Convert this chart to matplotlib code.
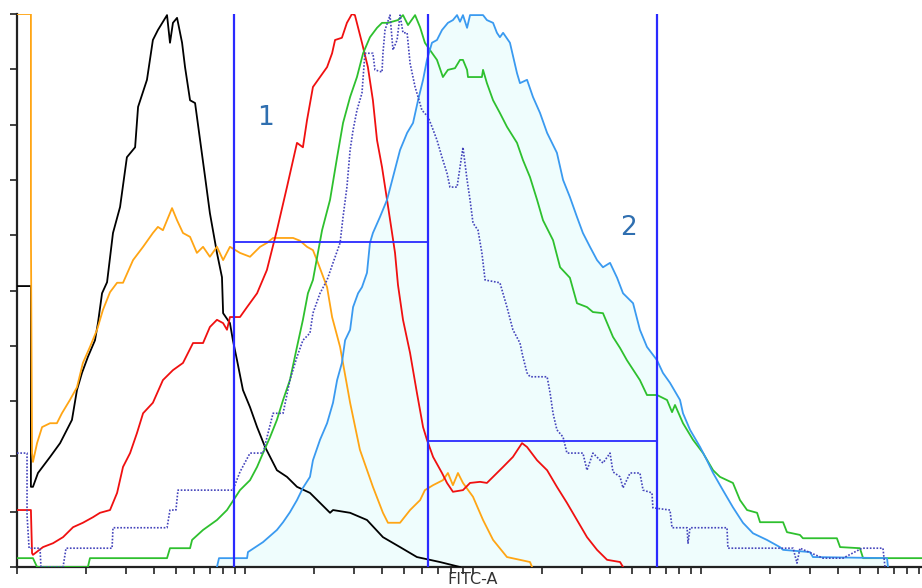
import numpy as np
import matplotlib
matplotlib.use('Agg')
import matplotlib.pyplot as plt

# histogram traces: x = log10(FITC-A), y = % of max
black_x = [0, 0.061, 0.061, 0.070, 0.092, 0.145, 0.189, 0.241, 0.263, 0.285, 0.311, 0.342, 0.355, 0.373,
           0.395, 0.421, 0.452, 0.482, 0.518, 0.531, 0.570, 0.596, 0.618, 0.658, 0.671, 0.684, 0.702, 0.724,
           0.737, 0.759, 0.781, 0.803, 0.825, 0.846, 0.877, 0.899, 0.904, 0.934, 0.947, 0.965, 0.991, 1.022,
           1.053, 1.088, 1.140, 1.184, 1.228, 1.285, 1.373, 1.386, 1.461, 1.535, 1.605, 1.680, 1.754, 1.855, 1.943]
black_y = [50.8, 50.8, 14.5, 14.5, 17.0, 19.9, 22.4, 26.6, 32.0, 35.1, 38.0, 41.0, 44.1, 49.5,
           51.5, 60.4, 65.1, 74.1, 75.9, 83.2, 88.1, 95.3, 97.1, 99.8, 94.8, 98.4, 99.3, 94.8,
           90.4, 84.4, 83.9, 77.2, 70.5, 64.0, 56.8, 52.4, 45.9, 44.1, 41.0, 37.4, 32.0, 28.9,
           25.3, 21.7, 17.5, 16.3, 14.5, 13.4, 9.8, 10.3, 9.8, 8.5, 5.4, 3.6, 1.8, 0.9, 0]

orange_x = [0, 0.061, 0.061, 0.066, 0.070, 0.088, 0.110, 0.145, 0.175, 0.197, 0.232, 0.263, 0.289, 0.320,
            0.351, 0.377, 0.408, 0.439, 0.465, 0.509, 0.553, 0.596, 0.618, 0.640, 0.680, 0.702, 0.728,
            0.759, 0.789, 0.816, 0.846, 0.877, 0.904, 0.934, 0.978, 1.022, 1.066, 1.096, 1.123, 1.211,
            1.241, 1.272, 1.298, 1.320, 1.360, 1.382, 1.417, 1.461, 1.504, 1.561, 1.605, 1.627, 1.680,
            1.724, 1.768, 1.789, 1.825, 1.868, 1.890, 1.912, 1.934, 1.956, 2.000, 2.044, 2.088, 2.149,
            2.250, 2.259]
orange_y = [100, 100, 60.9, 20.6, 19.0, 22.4, 25.3, 26.0, 26.0, 27.8, 30.2, 32.5, 36.9, 39.8,
            42.9, 46.5, 49.7, 51.4, 51.4, 55.5, 57.9, 60.4, 61.5, 60.9, 64.9, 62.7, 60.4,
            59.7, 56.8, 57.9, 56.1, 57.9, 55.5, 57.9, 56.8, 56.1, 57.9, 58.6, 59.5, 59.5,
            59.0, 57.9, 57.3, 55.0, 50.6, 45.2, 39.8, 29.7, 21.2, 14.5, 9.8, 8.0, 8.0,
            10.3, 12.1, 13.9, 14.8, 15.7, 17.0, 14.8, 17.0, 15.2, 12.7, 8.5, 4.9, 1.8,
            0.9, 0]

red_x = [0, 0.061, 0.066, 0.070, 0.114, 0.158, 0.202, 0.246, 0.289, 0.333, 0.364, 0.408, 0.439, 0.465,
         0.496, 0.526, 0.553, 0.596, 0.640, 0.684, 0.728, 0.772, 0.816, 0.846, 0.877, 0.904, 0.921, 0.934,
         0.978, 1.009, 1.053, 1.096, 1.140, 1.184, 1.228, 1.254, 1.272, 1.298, 1.329, 1.360, 1.382, 1.395,
         1.425, 1.447, 1.469, 1.482, 1.513, 1.539, 1.561, 1.579, 1.601, 1.623, 1.645, 1.658, 1.671, 1.693,
         1.724, 1.754, 1.781, 1.798, 1.825, 1.864, 1.886, 1.912, 1.956, 1.987, 2.031, 2.061, 2.088, 2.132,
         2.175, 2.215, 2.237, 2.281, 2.325, 2.368, 2.412, 2.456, 2.500, 2.544, 2.588, 2.645, 2.658]
red_y = [10.3, 10.3, 2.5, 2.2, 3.6, 4.3, 5.4, 7.2, 8.0, 9.0, 9.8, 10.3, 13.4, 18.1,
         20.6, 24.2, 27.8, 29.7, 33.8, 35.6, 36.9, 40.5, 40.5, 43.4, 44.7, 44.1, 42.9, 45.2,
         45.2, 47.0, 49.5, 53.7, 60.9, 68.7, 76.7, 75.9, 80.8, 86.8, 88.6, 90.4, 92.9, 95.3,
         95.7, 98.4, 100, 99.8, 94.8, 90.4, 84.4, 77.2, 72.3, 66.4, 60.4, 56.8, 51.0, 44.7,
         38.7, 31.5, 25.3, 23.0, 19.9, 17.0, 15.2, 13.6, 13.9, 15.2, 15.4, 15.2, 16.3, 18.1,
         19.9, 22.4, 21.7, 19.3, 17.5, 14.5, 11.6, 8.5, 5.4, 3.1, 1.3, 0.9, 0]

green_x = [0, 0.070, 0.088, 0.311, 0.320, 0.658, 0.671, 0.759, 0.768, 0.816, 0.877, 0.921, 0.978, 1.022,
           1.053, 1.079, 1.110, 1.140, 1.167, 1.197, 1.228, 1.254, 1.276, 1.298, 1.338, 1.373, 1.404,
           1.430, 1.461, 1.491, 1.518, 1.548, 1.579, 1.601, 1.627, 1.671, 1.693, 1.715, 1.746, 1.768,
           1.789, 1.811, 1.842, 1.868, 1.890, 1.921, 1.943, 1.956, 1.974, 1.978, 2.039, 2.044, 2.061,
           2.088, 2.118, 2.149, 2.193, 2.219, 2.250, 2.281, 2.307, 2.351, 2.382, 2.425, 2.456, 2.500,
           2.526, 2.570, 2.614, 2.645, 2.675, 2.732, 2.763, 2.807, 2.851, 2.873, 2.886, 2.921, 2.965,
           3.009, 3.053, 3.083, 3.140, 3.171, 3.202, 3.246, 3.259, 3.360, 3.377, 3.434, 3.447, 3.596,
           3.610, 3.697, 3.711, 3.969]
green_y = [1.6, 1.6, 0, 0, 1.6, 1.6, 3.4, 3.4, 4.9, 6.7, 8.5, 10.3, 13.9, 15.7,
           18.1, 20.6, 23.5, 26.6, 30.2, 33.8, 39.8, 44.7, 49.5, 51.9, 60.9, 66.4, 74.1,
           80.3, 85.0, 88.6, 92.9, 95.8, 97.5, 98.4, 98.4, 98.9, 99.8, 98.0, 99.8, 97.6,
           94.8, 93.5, 91.7, 88.6, 89.9, 90.2, 91.7, 91.7, 89.9, 88.6, 88.6, 89.9, 87.5,
           84.4, 82.1, 79.6, 76.7, 73.6, 70.5, 66.4, 62.7, 59.1, 54.2, 52.3, 47.7, 47.0,
           46.1, 45.9, 41.6, 39.6, 37.4, 33.8, 31.1, 31.1, 30.2, 28.0, 29.3, 26.0, 23.0,
           20.6, 17.5, 16.3, 15.2, 12.1, 10.3, 9.8, 8.1, 8.1, 6.3, 5.8, 5.2, 5.2,
           3.6, 3.4, 1.6, 1.6]

blue_x = [0.877, 0.886, 1.009, 1.013, 1.079, 1.140, 1.167, 1.197, 1.228, 1.254, 1.285, 1.298, 1.329, 1.360,
          1.386, 1.404, 1.425, 1.439, 1.461, 1.474, 1.496, 1.513, 1.535, 1.548, 1.561, 1.592, 1.623,
          1.649, 1.680, 1.711, 1.737, 1.759, 1.781, 1.798, 1.820, 1.842, 1.864, 1.890, 1.912, 1.930,
          1.943, 1.956, 1.974, 1.987, 2.044, 2.061, 2.088, 2.105, 2.118, 2.132, 2.162, 2.193, 2.206,
          2.237, 2.263, 2.294, 2.325, 2.368, 2.395, 2.425, 2.456, 2.482, 2.513, 2.544, 2.570, 2.601,
          2.632, 2.658, 2.702, 2.732, 2.763, 2.807, 2.833, 2.864, 2.908, 2.921, 2.952, 2.996, 3.026,
          3.053, 3.096, 3.140, 3.184, 3.228, 3.289, 3.346, 3.360, 3.478, 3.491, 3.816, 3.820]
blue_y = [0, 1.6, 1.6, 2.7, 4.5, 6.7, 8.1, 9.9, 12.1, 14.3, 16.3, 19.3, 23.0, 26.0,
          29.7, 33.8, 36.9, 41.0, 42.9, 47.0, 49.5, 50.6, 53.2, 58.6, 60.4, 63.3, 66.4,
          70.5, 75.4, 78.5, 80.3, 84.4, 88.1, 91.7, 94.8, 95.3, 97.1, 98.4, 98.9, 99.8,
          98.6, 99.8, 97.5, 99.8, 99.8, 98.9, 98.4, 96.6, 95.8, 96.6, 94.8, 89.3, 87.5,
          88.1, 85.0, 82.1, 78.5, 74.9, 70.0, 66.9, 63.3, 60.4, 57.9, 55.5, 54.2, 55.0,
          52.3, 49.5, 47.7, 42.9, 39.8, 37.4, 35.1, 33.3, 30.2, 27.8, 24.8, 21.7, 19.3,
          17.0, 13.9, 10.8, 8.0, 6.1, 4.9, 3.6, 3.1, 2.7, 1.8, 1.6, 0]

navy_x = [0, 0.044, 0.044, 0.053, 0.101, 0.105, 0.202, 0.215, 0.417, 0.421, 0.658, 0.671, 0.697, 0.706,
          0.947, 0.978, 1.022, 1.079, 1.123, 1.167, 1.197, 1.228, 1.254, 1.285, 1.298, 1.329, 1.360,
          1.386, 1.417, 1.430, 1.447, 1.461, 1.474, 1.491, 1.513, 1.526, 1.561, 1.570, 1.601, 1.605,
          1.614, 1.636, 1.649, 1.667, 1.680, 1.693, 1.711, 1.724, 1.746, 1.759, 1.776, 1.803, 1.820,
          1.842, 1.864, 1.886, 1.899, 1.930, 1.943, 1.956, 1.974, 1.987, 2.000, 2.022, 2.039, 2.053,
          2.118, 2.149, 2.175, 2.206, 2.219, 2.237, 2.250, 2.325, 2.338, 2.351, 2.368, 2.395, 2.412,
          2.482, 2.500, 2.526, 2.570, 2.601, 2.614, 2.645, 2.658, 2.689, 2.732, 2.746, 2.785, 2.789,
          2.864, 2.873, 2.939, 2.943, 2.952, 3.114, 3.118, 3.404, 3.421, 3.434, 3.535, 3.623, 3.706,
          3.798, 3.807]
navy_y = [20.6, 20.6, 9.4, 3.4, 3.4, 0, 0, 3.4, 3.4, 7.1, 7.1, 10.3, 10.3, 13.9,
          13.9, 17.2, 20.6, 20.6, 27.8, 27.8, 33.8, 38.0, 41.0, 42.3, 45.9, 49.5, 51.9,
          55.0, 58.6, 63.3, 68.7, 75.4, 79.0, 82.6, 85.7, 92.9, 92.9, 89.9, 89.5, 92.9,
          97.1, 99.8, 93.5, 95.3, 99.8, 96.6, 96.6, 91.1, 86.8, 85.0, 82.6, 81.4, 79.6,
          77.2, 74.1, 71.2, 68.7, 68.7, 72.3, 75.9, 70.0, 66.4, 62.2, 60.9, 56.8, 51.9,
          51.4, 47.0, 42.9, 40.5, 38.0, 35.1, 34.4, 34.4, 31.5, 27.8, 24.8, 23.5, 20.6,
          20.6, 17.5, 20.6, 18.8, 20.6, 17.2, 16.3, 14.3, 17.0, 17.0, 13.9, 13.4, 10.7,
          10.3, 7.1, 7.1, 4.3, 7.1, 7.1, 3.4, 3.4, 0.7, 3.4, 1.6, 1.6, 3.4,
          3.4, 0]

# gates (log10 FITC-A) and their bar heights (% of max)
gate_edges = [0.952, 1.803, 2.807]
gate_levels = [58.8, 22.8]
gate_names = ['1', '2']

def fitc(v):
    return 10 ** np.asarray(v)

fig = plt.figure(figsize=(9.22, 5.88), dpi=100)
ax = fig.add_axes([17 / 922, 21 / 588, 905 / 922, 553 / 588])

ax.fill_between(fitc(blue_x), blue_y, 0, color='#effdfd', lw=0, zorder=1)

ax.plot(fitc(black_x), black_y, color='#000000', lw=1.3, zorder=3)
ax.plot(fitc(orange_x), orange_y, color='#ffa514', lw=1.3, zorder=3)
ax.plot(fitc(red_x), red_y, color='#f01010', lw=1.3, zorder=3)
ax.plot(fitc(green_x), green_y, color='#2ec02e', lw=1.3, zorder=3)
ax.plot(fitc(blue_x), blue_y, color='#3a9af0', lw=1.3, zorder=3)
ax.plot(fitc(navy_x), navy_y, color='#4444bb', lw=1.2, ls=(0, (1, 1)), zorder=3)

gate_col = '#2a2aff'
for g in gate_edges:
    ax.plot([fitc(g), fitc(g)], [0, 100], color=gate_col, lw=1.6, zorder=4)
for i, lvl in enumerate(gate_levels):
    ax.plot([fitc(gate_edges[i]), fitc(gate_edges[i + 1])], [lvl, lvl], color=gate_col, lw=1.3, zorder=4)

ax.text(fitc(1.088), 81.2, gate_names[0], color='#2f6fb0', fontsize=19, ha='center', va='center')
ax.text(fitc(2.680), 61.3, gate_names[1], color='#2f6fb0', fontsize=19, ha='center', va='center')

ax.set_xscale('log')
ax.set_xlim(1, 10 ** (905 / 228))
ax.set_ylim(0, 100)
ax.set_yticks(np.arange(0, 101, 10))
ax.tick_params(axis='both', which='both', direction='out', length=5, width=1.2,
               labelleft=False, labelbottom=False, color='#222222')
for s in ['top', 'right']:
    ax.spines[s].set_visible(False)
for s in ['left', 'bottom']:
    ax.spines[s].set_linewidth(1.6)
    ax.spines[s].set_color('#222222')

fig.text(473 / 922, 1 / 588, 'FITC-A', ha='center', va='bottom', fontsize=11.5, color='#333333')

fig.savefig('out.png', dpi=100)
